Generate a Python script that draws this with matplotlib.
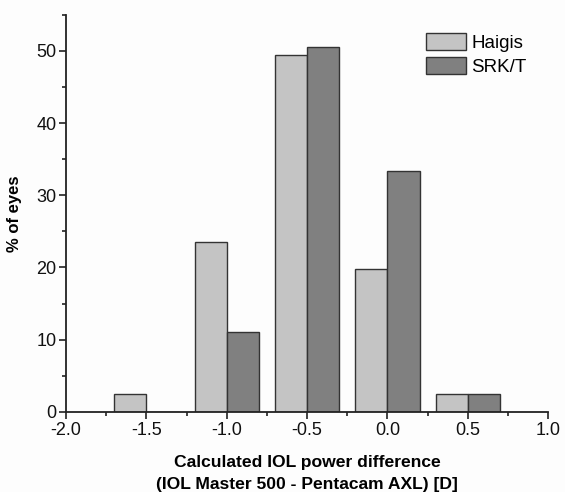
import matplotlib.pyplot as plt
from matplotlib.ticker import MultipleLocator

plt.rcParams['font.family'] = ['Liberation Sans', 'DejaVu Sans']

# bin centres of the IOL power difference histogram
bins = [-1.5, -1.0, -0.5, 0.0, 0.5]
haigis = [2.5, 23.5, 49.4, 19.8, 2.5]
srkt = [0.0, 11.1, 50.6, 33.3, 2.5]
names = ['Haigis', 'SRK/T']

fig = plt.figure(figsize=(5.65, 4.92), dpi=100)
fig.patch.set_facecolor('#fdfdfd')
ax = fig.add_axes([0.117, 0.163, 0.853, 0.807])
ax.set_facecolor('#fdfdfd')

w = 0.2
ax.bar([b - w / 2 for b in bins], haigis, width=w, color='#c4c4c4',
       edgecolor='#333333', linewidth=1, label=names[0])
ax.bar([b + w / 2 for b in bins], srkt, width=w, color='#808080',
       edgecolor='#333333', linewidth=1, label=names[1])

ax.set_xlim(-2.0, 1.0)
ax.set_ylim(0, 55)
ax.xaxis.set_major_locator(MultipleLocator(0.5))
ax.xaxis.set_minor_locator(MultipleLocator(0.25))
ax.yaxis.set_major_locator(MultipleLocator(10))
ax.yaxis.set_minor_locator(MultipleLocator(5))
ax.xaxis.set_major_formatter(plt.FuncFormatter(lambda v, p: '%.1f' % v))

for s in ['top', 'right']:
    ax.spines[s].set_visible(False)
for s in ['left', 'bottom']:
    ax.spines[s].set_color('#222222')
    ax.spines[s].set_linewidth(1.3)
ax.tick_params(which='major', direction='out', length=5, width=1.2,
               colors='#222222', labelsize=13, labelcolor='#111111', pad=2)
ax.tick_params(which='minor', direction='out', length=3, width=1.2, colors='#222222')

ax.set_xlabel('Calculated IOL power difference\n(IOL Master 500 - Pentacam AXL) [D]',
              fontsize=12.6, fontweight='bold', labelpad=12, linespacing=1.55)
ax.set_ylabel('% of eyes', fontsize=12, fontweight='bold', labelpad=10)

ax.legend(loc='upper left', bbox_to_anchor=(0.728, 0.978), frameon=False,
          fontsize=13.5, handlelength=2.1, handleheight=1.0, handletextpad=0.3,
          borderpad=0, labelspacing=0.3)

plt.savefig('out.png', dpi=100, facecolor=fig.get_facecolor())
